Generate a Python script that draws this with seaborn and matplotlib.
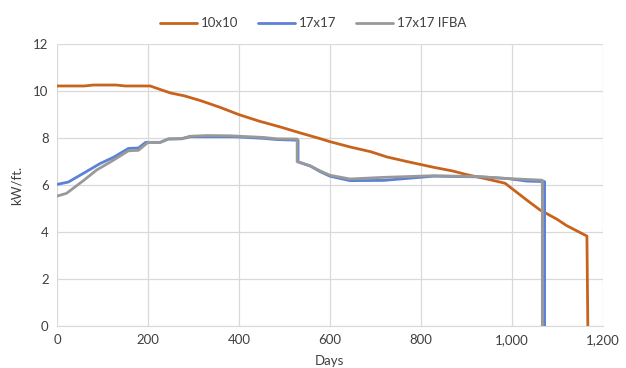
import matplotlib
matplotlib.use("Agg")
import matplotlib.pyplot as plt
import matplotlib.ticker as mticker
import pandas as pd
import seaborn as sns

# 10x10 assembly
days_10x10 = [0, 60, 80, 130, 150, 205, 230, 250, 280, 315, 360, 400, 445, 490, 535, 580,
              600, 645, 690, 725, 770, 830, 870, 900, 945, 985, 1033, 1062, 1099, 1120, 1165, 1167]
kw_10x10 = [10.22, 10.22, 10.26, 10.26, 10.22, 10.22, 10.05, 9.92, 9.8, 9.6, 9.3, 9.0, 8.72, 8.48, 8.22, 7.97,
            7.85, 7.62, 7.42, 7.2, 7.0, 6.75, 6.6, 6.45, 6.26, 6.08, 5.36, 4.94, 4.55, 4.28, 3.83, 0]

# 17x17 assembly
days_17x17 = [0, 25, 58, 95, 124, 157, 179, 195, 227, 245, 274, 293, 390, 454, 483, 530, 530,
              557, 579, 600, 644, 718, 828, 930, 990, 1033, 1072, 1072]
kw_17x17 = [6.03, 6.13, 6.5, 6.92, 7.18, 7.56, 7.58, 7.82, 7.82, 7.96, 7.97, 8.06, 8.06, 7.99, 7.94, 7.91, 6.99,
            6.81, 6.57, 6.38, 6.19, 6.2, 6.38, 6.35, 6.28, 6.17, 6.15, 0]

# 17x17 IFBA assembly
days_ifba = [0, 21, 58, 87, 124, 157, 179, 200, 227, 245, 274, 293, 330, 380, 454, 483, 528, 528,
             557, 579, 600, 644, 718, 828, 930, 990, 1033, 1067, 1067]
kw_ifba = [5.53, 5.65, 6.19, 6.64, 7.06, 7.46, 7.48, 7.82, 7.82, 7.97, 7.98, 8.08, 8.11, 8.1, 8.03, 7.97, 7.96, 7.0,
           6.82, 6.6, 6.42, 6.26, 6.33, 6.4, 6.36, 6.28, 6.24, 6.21, 0]

series = [
    ("10x10", days_10x10, kw_10x10, "#c8631e", 1.3),
    ("17x17", days_17x17, kw_17x17, "#5b82d6", 2.2),
    ("17x17 IFBA", days_ifba, kw_ifba, "#999999", 2.4),
]

sns.set_style("white")
plt.rcParams["font.family"] = ["Lato", "DejaVu Sans"]

fig = plt.figure(figsize=(6.26, 3.68), dpi=100)
ax = fig.add_axes([0.091, 0.114, 0.872, 0.766])

for name, d, v, color, lw in series:
    df = pd.DataFrame({"Days": d, "kW": v})
    sns.lineplot(data=df, x="Days", y="kW", ax=ax, color=color, linewidth=lw,
                 estimator=None, sort=False, label=name)

ax.set_xlim(0, 1200)
ax.set_ylim(0, 12)
ax.set_xticks(range(0, 1201, 200))
ax.set_yticks(range(0, 13, 2))
ax.xaxis.set_major_formatter(mticker.FuncFormatter(lambda x, p: f"{int(x):,}"))
ax.grid(True, color="#d9d9d9", linewidth=0.9)
ax.set_axisbelow(True)
for s in ["top", "right", "left"]:
    ax.spines[s].set_visible(False)
ax.spines["bottom"].set_color("#d9d9d9")
ax.tick_params(axis="both", length=0, labelsize=9.5, colors="#404040", pad=6)
ax.set_xlabel("Days", fontsize=9.5, color="#404040", labelpad=6)
ax.set_ylabel("kW/ft.", fontsize=9.5, color="#404040", labelpad=8)

ax.get_legend().remove()
handles, labels = ax.get_legend_handles_labels()
for h in handles:
    h.set_linewidth(2)
fig.legend(handles, labels, loc="upper center", bbox_to_anchor=(0.5, 0.985), ncol=3,
           frameon=False, fontsize=9.5, handlelength=2.8, handletextpad=0.3, columnspacing=1.5,
           labelcolor="#404040")

fig.savefig("out.png", dpi=100)
